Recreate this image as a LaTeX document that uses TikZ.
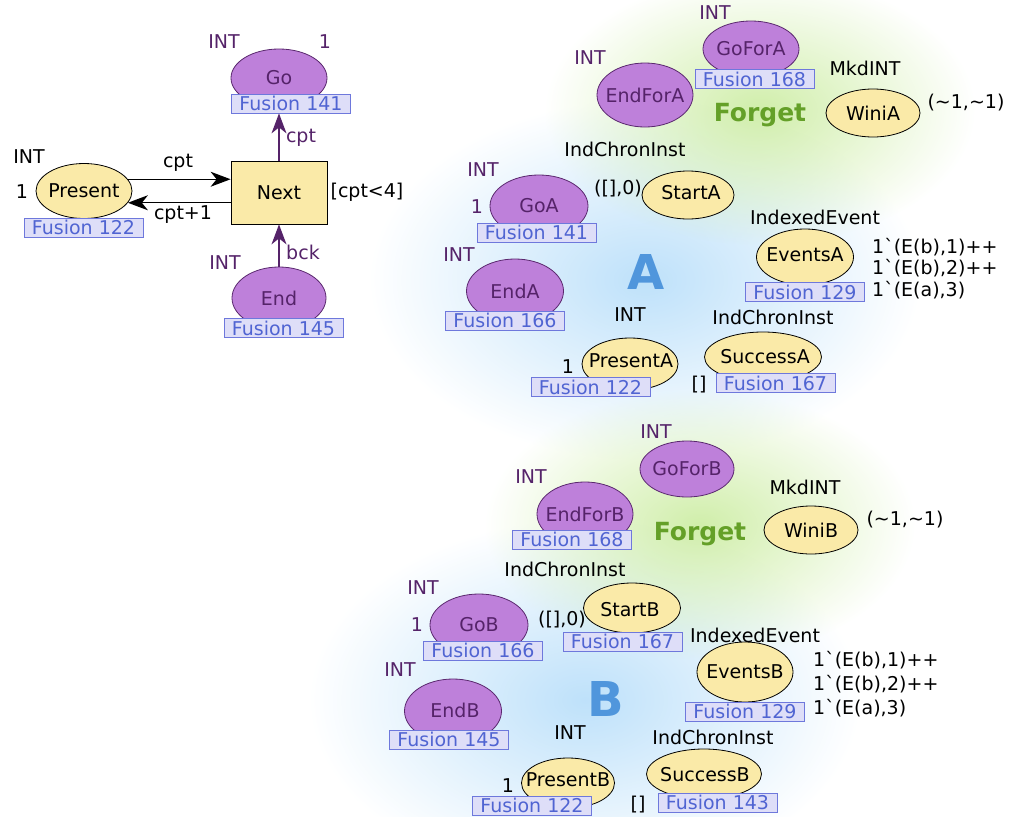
\documentclass[tikz,border=0pt]{standalone}
\usepackage{fontspec}
\setmainfont{DejaVu Sans}
\usetikzlibrary{shapes.geometric,arrows.meta,fadings}
\tikzfading[name=glowfade, inner color=transparent!0, outer color=transparent!100]
\definecolor{plfill}{RGB}{190,128,218}
\definecolor{plline}{RGB}{90,40,110}
\definecolor{pltext}{RGB}{85,35,105}
\definecolor{ylfill}{RGB}{250,234,168}
\definecolor{fusfill}{RGB}{222,222,248}
\definecolor{fusline}{RGB}{110,120,220}
\definecolor{fustext}{RGB}{80,100,210}
\definecolor{forgetgreen}{RGB}{100,160,40}
\definecolor{netblue}{RGB}{80,150,220}
\definecolor{glowblue}{RGB}{190,225,250}
\definecolor{glowgreen}{RGB}{208,238,170}
\begin{document}
\begin{tikzpicture}[x=1pt,y=-1pt,
  every node/.style={font=\fontsize{19}{22}\selectfont, inner sep=0pt},
  pl/.style={ellipse, draw=plline, line width=0.8pt, fill=plfill},
  yl/.style={ellipse, draw=black, line width=0.8pt, fill=ylfill},
  pltx/.style={text=pltext},
  yltx/.style={text=black},
  tr/.style={rectangle, draw=black, line width=0.8pt, fill=ylfill, text=black},
  fus/.style={rectangle, draw=fusline, line width=0.8pt, fill=fusfill, text=fustext, minimum width=119pt, minimum height=19pt},
  lab/.style={text=black},
  plab/.style={text=pltext},
  forget/.style={text=forgetgreen, font=\fontsize{25}{28}\selectfont\bfseries},
  netname/.style={text=netblue, font=\fontsize{48}{50}\selectfont\bfseries},
  arc/.style={line width=1.4pt, -{Stealth[length=20pt,width=15pt,inset=6pt]}},
  parc/.style={arc, draw=pltext}
]
\useasboundingbox (0,0) rectangle (1010,817);
% glows
\fill[glowblue, path fading=glowfade] (645,280) ellipse (275 and 180);
\fill[glowgreen, path fading=glowfade] (760,110) ellipse (215 and 135);
\fill[glowblue, path fading=glowfade] (585,700) ellipse (275 and 180);
\fill[glowgreen, path fading=glowfade] (700,525) ellipse (215 and 135);

% ---------- top-left net ----------
\node[pl, minimum width=96pt, minimum height=58pt] (go) at (279,78) {};
\node[pltx] (go-t) at (go) {Go};
\node[fus] (fgo) at (291,103.5) {Fusion 141};
\node[plab] (goint) at (224,42) {INT};
\node[plab] (gomark) at (325,42) {1};

\node[yl, minimum width=96pt, minimum height=55pt] (present) at (84,191) {};
\node[yltx] (present-t) at (present) {Present};
\node[fus] (fpresent) at (83.5,227.5) {Fusion 122};
\node[lab] (presentint) at (29,157) {INT};
\node[lab] (presentmark) at (22,192) {1};

\node[tr, minimum width=96pt, minimum height=63pt] (next) at (279,192.5) {Next};
\node[lab] (guard) at (367,192) {[cpt<4]};

\node[pl, minimum width=94pt, minimum height=62pt] (endn) at (279,298) {};
\node[pltx] (endn-t) at (endn) {End};
\node[fus] (fend) at (283.5,328) {Fusion 145};
\node[plab] (endint) at (225,263) {INT};

\draw[arc] (present.15) -- (present.15 -| next.west);
\draw[arc] (present.-15 -| next.west) -- (present.-15);
\draw[parc] (next.north) -- (next.north |- fgo.south);
\draw[parc] (endn.north) -- (next.south);
\node[lab] (l1) at (178,163) {cpt};
\node[lab] (l2) at (183,215) {cpt+1};
\node[plab] (l3) at (301,138) {cpt};
\node[plab] (l4) at (303,252) {bck};

% ---------- net A ----------
\node[pl, minimum width=96pt, minimum height=56pt] (goforA) at (751,49) {};
\node[pltx] (goforA-t) at (goforA) {GoForA};
\node[plab] (goforAint) at (715,13) {INT};
\node[pl, minimum width=96pt, minimum height=64pt] (endforA) at (645,95) {};
\node[pltx] (endforA-t) at (endforA) {EndForA};
\node[plab] (endforAint) at (590,58) {INT};
\node[fus] (fgoforA) at (754.5,79) {Fusion 168};
\node[forget] (forgetA) at (760,115) {Forget};
\node[lab] (wiAty) at (865,68) {MkdINT};
\node[yl, minimum width=94pt, minimum height=48pt] (winiA) at (873,113) {};
\node[yltx] (winiA-t) at (winiA) {WiniA};
\node[lab] (winiAm) at (966,103) {(\textasciitilde1,\textasciitilde1)};

\node[lab] (startAty) at (625,149) {IndChronInst};
\node[yl, minimum width=92pt, minimum height=48pt] (startA) at (688,195) {};
\node[yltx] (startA-t) at (691,193) {StartA};
\node[lab] (startAm) at (618,189) {([],0)};

\node[pl, minimum width=98pt, minimum height=62pt] (goA) at (539,206) {};
\node[pltx] (goA-t) at (goA) {GoA};
\node[plab] (goAint) at (483,170) {INT};
\node[plab] (goAm) at (477,207) {1};
\node[fus] (fgoA) at (536.5,232.5) {Fusion 141};

\node[lab] (evAty) at (815,217) {IndexedEvent};
\node[yl, minimum width=97pt, minimum height=56pt] (eventsA) at (805,257) {};
\node[yltx] (eventsA-t) at (805,255) {EventsA};
\node[fus] (feventsA) at (805,292) {Fusion 129};
\node[lab, anchor=west] (evAm1) at (872,247) {1\textasciigrave(E(b),1)++};
\node[lab, anchor=west] (evAm2) at (872,268) {1\textasciigrave(E(b),2)++};
\node[lab, anchor=west] (evAm3) at (872,290) {1\textasciigrave(E(a),3)};

\node[netname] (nameA) at (646,272) {A};

\node[pl, minimum width=97pt, minimum height=64pt] (endA) at (515,291) {};
\node[pltx] (endA-t) at (endA) {EndA};
\node[plab] (endAint) at (459,255) {INT};
\node[fus] (fendA) at (505,320.5) {Fusion 166};

\node[lab] (prAint) at (630,315) {INT};
\node[yl, minimum width=96pt, minimum height=52pt] (presentA) at (630,364) {};
\node[yltx] (presentA-t) at (631,361) {PresentA};
\node[lab] (prAm) at (568,367) {1};
\node[fus] (fpresentA) at (590.5,387) {Fusion 122};

\node[lab] (sucAty) at (773,317) {IndChronInst};
\node[yl, minimum width=117pt, minimum height=50pt] (successA) at (763,357) {};
\node[yltx] (successA-t) at (765,357) {SuccessA};
\node[lab] (sucAm) at (699,385) {[]};
\node[fus] (fsuccessA) at (775.5,383) {Fusion 167};

% ---------- net B ----------
\node[pl, minimum width=94pt, minimum height=56pt] (goforB) at (687,469) {};
\node[pltx] (goforB-t) at (goforB) {GoForB};
\node[plab] (goforBint) at (656,432) {INT};
\node[pl, minimum width=96pt, minimum height=64pt] (endforB) at (585,514) {};
\node[pltx] (endforB-t) at (endforB) {EndForB};
\node[plab] (endforBint) at (531,477) {INT};
\node[fus] (fendforB) at (572,539.5) {Fusion 168};
\node[forget] (forgetB) at (700,534) {Forget};
\node[lab] (wiBty) at (805,487) {MkdINT};
\node[yl, minimum width=94pt, minimum height=48pt] (winiB) at (811,530) {};
\node[yltx] (winiB-t) at (winiB) {WiniB};
\node[lab] (winiBm) at (905,520) {(\textasciitilde1,\textasciitilde1)};

\node[lab] (startBty) at (565,569) {IndChronInst};
\node[yl, minimum width=97pt, minimum height=50pt] (startB) at (632,608) {};
\node[yltx] (startB-t) at (630,610) {StartB};
\node[lab] (startBm) at (562,620) {([],0)};
\node[fus] (fstartB) at (622.5,641.5) {Fusion 167};

\node[pl, minimum width=98pt, minimum height=62pt] (goB) at (479,625) {};
\node[pltx] (goB-t) at (goB) {GoB};
\node[plab] (goBint) at (423,588) {INT};
\node[plab] (goBm) at (417,625) {1};
\node[fus] (fgoB) at (483,650.5) {Fusion 166};

\node[lab] (evBty) at (755,635) {IndexedEvent};
\node[yl, minimum width=96pt, minimum height=60pt] (eventsB) at (745,672) {};
\node[yltx] (eventsB-t) at (eventsB) {EventsB};
\node[fus] (feventsB) at (745,711.5) {Fusion 129};
\node[lab, anchor=west] (evBm1) at (813,660) {1\textasciigrave(E(b),1)++};
\node[lab, anchor=west] (evBm2) at (813,684) {1\textasciigrave(E(b),2)++};
\node[lab, anchor=west] (evBm3) at (813,708) {1\textasciigrave(E(a),3)};

\node[netname] (nameB) at (606,699) {B};

\node[pl, minimum width=97pt, minimum height=64pt] (endB) at (453,711) {};
\node[pltx] (endB-t) at (455,710) {EndB};
\node[plab] (endBint) at (400,670) {INT};
\node[fus] (fendB) at (449,739.5) {Fusion 145};

\node[lab] (prBint) at (570,733) {INT};
\node[yl, minimum width=93pt, minimum height=50pt] (presentB) at (568,783) {};
\node[yltx] (presentB-t) at (568,780) {PresentB};
\node[lab] (prBm) at (508,786) {1};
\node[fus] (fpresentB) at (532,805.5) {Fusion 122};

\node[lab] (sucBty) at (713,737) {IndChronInst};
\node[yl, minimum width=115pt, minimum height=50pt] (successB) at (704,774) {};
\node[yltx] (successB-t) at (705,775) {SuccessB};
\node[lab] (sucBm) at (638,805) {[]};
\node[fus] (fsuccessB) at (717.5,802.5) {Fusion 143};
\end{tikzpicture}
\end{document}
